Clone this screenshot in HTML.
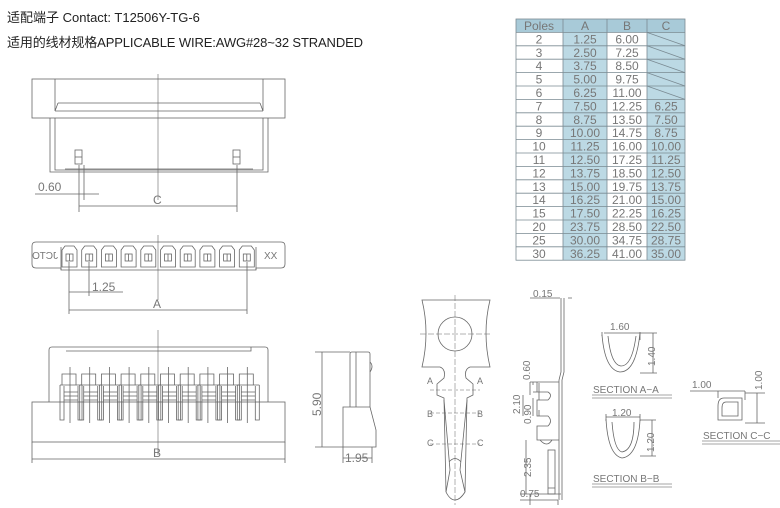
<!DOCTYPE html>
<html><head><meta charset="utf-8"><style>
html,body{margin:0;padding:0;background:#fff;}
svg{display:block;}
text{font-family:"Liberation Sans","Noto Sans CJK SC",sans-serif;}
.d{font-family:"DejaVu Sans","Liberation Sans",sans-serif;fill:#777;font-size:12px;}
</style></head><body>
<svg width="780" height="508" viewBox="0 0 780 508" xmlns="http://www.w3.org/2000/svg">
<g fill="#222" font-size="13">
<text x="7" y="22" style="font-family:'Liberation Sans','Noto Sans CJK SC',sans-serif">适配端子 Contact: T12506Y-TG-6</text>
<text x="7" y="47" textLength="356" style="font-family:'Liberation Sans','Noto Sans CJK SC',sans-serif">适用的线材规格APPLICABLE WIRE:AWG#28~32 STRANDED</text>
</g>

<!-- table -->
<g>
<rect x="516" y="19" width="169" height="13.4" fill="#a8cad8"/>
<rect x="563" y="32.4" width="44" height="227.8" fill="#bcd9e4"/>
<rect x="647" y="32.4" width="38" height="227.8" fill="#bcd9e4"/>
<g stroke="#7a8a92" stroke-width="0.8" fill="none">
<rect x="516" y="19" width="169" height="241.2"/>
<line x1="563" y1="19" x2="563" y2="260.2"/><line x1="607" y1="19" x2="607" y2="260.2"/><line x1="647" y1="19" x2="647" y2="260.2"/>
<line x1="516" y1="32.4" x2="685" y2="32.4"/><line x1="516" y1="45.8" x2="685" y2="45.8"/><line x1="516" y1="59.2" x2="685" y2="59.2"/><line x1="516" y1="72.6" x2="685" y2="72.6"/><line x1="516" y1="86" x2="685" y2="86"/><line x1="516" y1="99.4" x2="685" y2="99.4"/><line x1="516" y1="112.8" x2="685" y2="112.8"/><line x1="516" y1="126.2" x2="685" y2="126.2"/><line x1="516" y1="139.6" x2="685" y2="139.6"/><line x1="516" y1="153" x2="685" y2="153"/><line x1="516" y1="166.4" x2="685" y2="166.4"/><line x1="516" y1="179.8" x2="685" y2="179.8"/><line x1="516" y1="193.2" x2="685" y2="193.2"/><line x1="516" y1="206.6" x2="685" y2="206.6"/><line x1="516" y1="220" x2="685" y2="220"/><line x1="516" y1="233.4" x2="685" y2="233.4"/><line x1="516" y1="246.8" x2="685" y2="246.8"/>
<line x1="647" y1="32.4" x2="685" y2="45.8"/><line x1="647" y1="45.8" x2="685" y2="59.2"/><line x1="647" y1="59.2" x2="685" y2="72.6"/><line x1="647" y1="72.6" x2="685" y2="86"/><line x1="647" y1="86" x2="685" y2="99.4"/>
</g>
<g class="d" text-anchor="middle" font-size="12.5">
<text x="539" y="30">Poles</text><text x="585" y="30">A</text><text x="627" y="30">B</text><text x="666" y="30">C</text>
<text x="539" y="43.4">2</text><text x="585" y="43.4">1.25</text><text x="627" y="43.4">6.00</text>
<text x="539" y="56.8">3</text><text x="585" y="56.8">2.50</text><text x="627" y="56.8">7.25</text>
<text x="539" y="70.2">4</text><text x="585" y="70.2">3.75</text><text x="627" y="70.2">8.50</text>
<text x="539" y="83.6">5</text><text x="585" y="83.6">5.00</text><text x="627" y="83.6">9.75</text>
<text x="539" y="97">6</text><text x="585" y="97">6.25</text><text x="627" y="97">11.00</text>
<text x="539" y="110.4">7</text><text x="585" y="110.4">7.50</text><text x="627" y="110.4">12.25</text><text x="666" y="110.4">6.25</text>
<text x="539" y="123.8">8</text><text x="585" y="123.8">8.75</text><text x="627" y="123.8">13.50</text><text x="666" y="123.8">7.50</text>
<text x="539" y="137.2">9</text><text x="585" y="137.2">10.00</text><text x="627" y="137.2">14.75</text><text x="666" y="137.2">8.75</text>
<text x="539" y="150.6">10</text><text x="585" y="150.6">11.25</text><text x="627" y="150.6">16.00</text><text x="666" y="150.6">10.00</text>
<text x="539" y="164">11</text><text x="585" y="164">12.50</text><text x="627" y="164">17.25</text><text x="666" y="164">11.25</text>
<text x="539" y="177.4">12</text><text x="585" y="177.4">13.75</text><text x="627" y="177.4">18.50</text><text x="666" y="177.4">12.50</text>
<text x="539" y="190.8">13</text><text x="585" y="190.8">15.00</text><text x="627" y="190.8">19.75</text><text x="666" y="190.8">13.75</text>
<text x="539" y="204.2">14</text><text x="585" y="204.2">16.25</text><text x="627" y="204.2">21.00</text><text x="666" y="204.2">15.00</text>
<text x="539" y="217.6">15</text><text x="585" y="217.6">17.50</text><text x="627" y="217.6">22.25</text><text x="666" y="217.6">16.25</text>
<text x="539" y="231">20</text><text x="585" y="231">23.75</text><text x="627" y="231">28.50</text><text x="666" y="231">22.50</text>
<text x="539" y="244.4">25</text><text x="585" y="244.4">30.00</text><text x="627" y="244.4">34.75</text><text x="666" y="244.4">28.75</text>
<text x="539" y="257.8">30</text><text x="585" y="257.8">36.25</text><text x="627" y="257.8">41.00</text><text x="666" y="257.8">35.00</text>
</g>
</g>

<g stroke="#666" stroke-width="0.8" fill="none">
<!-- top view -->
<rect x="32" y="79" width="253" height="39"/>
<path d="M55 79V111M263 79V111M58 103H260M55 111L58 103M263 111L260 103M55 111H263"/>
<path d="M50 118V172H268V118M55 118V170H263V118M65 169H253"/>
<rect x="75" y="150" width="7" height="14"/><line x1="75" y1="157" x2="82" y2="157"/>
<rect x="233" y="150" width="7" height="14"/><line x1="233" y1="157" x2="240" y2="157"/>
<line x1="158" y1="74" x2="158" y2="200" stroke-width="0.6"/>
<path d="M79 165V212M84 165V200M237 165V212M35 194H99M79 206H237"/>
<!-- pin row view -->
<path d="M36 242H281Q285 242 285 246V264Q285 268 281 268H256V270H61V268H36Q32 268 32 264V246Q32 242 36 242Z"/>
<path d="M61 247V270M256 247V270"/>
<g id="p"><path d="M62 250L65 246H74L77 250V267H62Z"/><rect x="66" y="254" width="7" height="7"/><line x1="69.5" y1="254" x2="69.5" y2="261"/></g>
<use href="#p" x="19.7"/><use href="#p" x="39.4"/><use href="#p" x="59.1"/><use href="#p" x="78.8"/><use href="#p" x="98.5"/><use href="#p" x="118.2"/><use href="#p" x="137.9"/><use href="#p" x="157.6"/><use href="#p" x="177.3"/>
<line x1="158" y1="235" x2="158" y2="300" stroke-width="0.6"/>
<path d="M69 262V314M89 262V296M247 262V314M69 292H123M69 310H247"/>
<!-- front view -->
<path d="M49 402V350Q49 347 52 347H265Q268 347 268 350V402"/>
<path d="M66 351H251V347"/>
<rect x="32" y="402" width="253" height="40"/>
<g id="f"><path d="M62 376V374H76V376M60 385V420H64V386M78 386V420H82V385M60 385H82M62 376V385M76 376V385M64 392H78M64 396H78M64 400H78M70 367V423"/></g>
<use href="#f" x="19.7"/><use href="#f" x="39.4"/><use href="#f" x="59.1"/><use href="#f" x="78.8"/><use href="#f" x="98.5"/><use href="#f" x="118.2"/><use href="#f" x="137.9"/><use href="#f" x="157.6"/><use href="#f" x="177.3"/>
<line x1="158" y1="330" x2="158" y2="455" stroke-width="0.6"/>
<path d="M32 442V463M285 442V463M32 459H285"/>
<!-- side view -->
<path d="M350 407V354Q350 352 352 352H368Q370 352 370 354V407M356 352V407M343 407H370L376 430V447H343Z"/>
<path d="M370 362Q374 366 370 372"/>
<path d="M315 352H350M315 447H343M322 352V447M343 447V463M372 447V463M343 458H372"/>
<!-- terminal front -->
<path d="M422 300H490Q482 333 490 367H470Q464 369 466 378L473 384V395L467 398L465 492Q460 500 455 500Q450 500 446 492L444 398L437 395V384L444 378Q446 369 440 367H422Q430 333 422 300Z"/>
<circle cx="455" cy="334" r="17"/>
<path d="M420 334H492M455 295V505" stroke-dasharray="6 2" stroke-width="0.5"/>
<path d="M430 390H480M430 413H480M430 444H480" stroke-dasharray="4 2" stroke-width="0.5"/>
<path d="M444 400L450 470L446 492M467 400L460 470L465 492M449 462Q455 455 461 462"/>
<!-- terminal side -->
<path d="M561 298V372L559 380V500M564 298V372L562 380V500"/>
<path d="M530 382H559M533 382V385M537 382V392H548Q553 395 548 400H537V416H548Q553 421 548 426H537V440H559M533 392H537M533 416V398"/>
<path d="M539 383V400M539 410V416M540 440Q547 448 552 440"/>
<rect x="548" y="450" width="7" height="44"/><path d="M548 488H555M520 494H561"/>
<path d="M530 298H560M568 298H572M530 382V395M523 395V416M526 440V494M530 494V505M558 500V505M520 500H558"/>
<!-- section A -->
<path d="M602 335Q605 370 620 372Q636 372 640 333M608 336Q611 365 621 366Q632 366 636 336" />
<path d="M602 332V336M640 332V340M604 333H640M640 333H657M640 373H657M653 333V373"/>
<!-- section B -->
<path d="M606 419Q608 455 622 458Q638 456 640 420M612 422Q614 450 622 452Q634 450 634 422"/>
<path d="M606 414V421M640 414V421M606 417H640M640 420H656M640 456H656M652 420V456"/>
<!-- section C -->
<path d="M718 406Q718 398 724 398H742V420H718ZM722 408Q722 402 726 402H738V416H722Z"/>
<path d="M690 391H745M718 391V398M745 391V400M745 393H765M745 423H765M757 393V423"/>
</g>

<g stroke="#888" stroke-width="0.8">
<line x1="592" y1="395" x2="672" y2="395"/><line x1="592" y1="398" x2="672" y2="398"/>
<line x1="592" y1="484" x2="672" y2="484"/><line x1="592" y1="487" x2="672" y2="487"/>
<line x1="702" y1="441" x2="780" y2="441"/><line x1="702" y1="444" x2="780" y2="444"/>
</g>

<g class="d" font-size="12">
<text x="38" y="191">0.60</text>
<text x="153" y="204">C</text>
<text x="264" y="259" font-size="10">XX</text>
<text x="35" y="259" font-size="10" transform="matrix(-1,0,0,1,93,0)">JCTO</text>
<text x="92" y="291">1.25</text>
<text x="153" y="308">A</text>
<text x="153" y="457">B</text>
<text x="345" y="462">1.95</text>
<text x="0" y="0" transform="translate(321,416) rotate(-90)">5.90</text>
<text x="533" y="297" font-size="10">0.15</text>
<text x="0" y="0" font-size="10" transform="translate(530,380) rotate(-90)">0.60</text>
<text x="0" y="0" font-size="10" transform="translate(520,414) rotate(-90)">2.10</text>
<text x="0" y="0" font-size="10" transform="translate(531,424) rotate(-90)">0.90</text>
<text x="0" y="0" font-size="10" transform="translate(531,477) rotate(-90)">2.35</text>
<text x="520" y="497" font-size="10">0.75</text>
<text x="610" y="330" font-size="10">1.60</text>
<text x="0" y="0" font-size="10" transform="translate(655,366) rotate(-90)">1.40</text>
<text x="593" y="393" font-size="10">SECTION  A−A</text>
<text x="612" y="416" font-size="10">1.20</text>
<text x="0" y="0" font-size="10" transform="translate(654,452) rotate(-90)">1.20</text>
<text x="593" y="482" font-size="10">SECTION  B−B</text>
<text x="692" y="388" font-size="10">1.00</text>
<text x="0" y="0" font-size="10" transform="translate(762,390) rotate(-90)">1.00</text>
<text x="703" y="439" font-size="10">SECTION  C−C</text>
<text x="427" y="384" font-size="9">A</text><text x="477" y="384" font-size="9">A</text>
<text x="427" y="417" font-size="9">B</text><text x="477" y="417" font-size="9">B</text>
<text x="427" y="446" font-size="9">C</text><text x="477" y="446" font-size="9">C</text>
</g>
</svg>
</body></html>
